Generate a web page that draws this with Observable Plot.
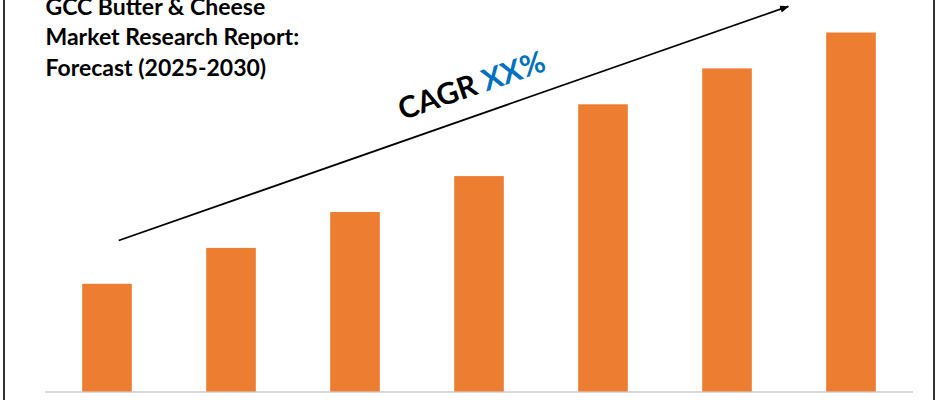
<!DOCTYPE html>
<html><head><meta charset="utf-8">
<script src="https://cdn.jsdelivr.net/npm/d3@7"></script>
<script src="https://cdn.jsdelivr.net/npm/@observablehq/plot@0.6"></script>
<style>
body{margin:0;background:#fff;}
#wrap{position:relative;width:940px;height:400px;overflow:hidden;background:#fff;}
#frame{position:absolute;left:3px;top:0;width:928px;height:400px;border-left:2px solid #333;border-right:2px solid #333;pointer-events:none;}
</style></head><body>
<div id="wrap"><div id="frame"></div></div>
<script>
// ---- data ----
const years = ["2024", "2025", "2026", "2027", "2028", "2029", "2030"];
const values = [3, 4, 5, 6, 8, 9, 10];
const titleLines = ["GCC Butter & Cheese", "Market Research Report:", "Forecast (2025-2030)"];
const cagrWord = "CAGR";
const cagrValue = "XX%";
// trend arrow in data space (x = category index, y = value)
const trendFrom = {x: 0.59, y: 4.22};
const trendTo = {x: 5.99, y: 10.74};
const cagrAt = {x: 2.88, y: 7.57};

const data = years.map((year, i) => ({year, i, value: values[i]}));

function filledArrow(color) {
  const m = d3.create("svg:marker")
    .attr("viewBox", "0 -5 10 10")
    .attr("markerWidth", 5)
    .attr("markerHeight", 5)
    .attr("refX", 9)
    .attr("orient", "auto")
    .attr("fill", color)
    .attr("stroke", "none");
  m.append("path").attr("d", "M0,-4L10,0L0,4Z");
  return m.node();
}

const chart = Plot.plot({
  width: 940,
  height: 400,
  marginLeft: 45,
  marginRight: 27,
  marginTop: 32.5,
  marginBottom: 8.5,
  style: {fontFamily: "Lato, 'Open Sans', sans-serif", background: "white"},
  x: {axis: null, domain: [0, years.length]},
  y: {axis: null, domain: [0, d3.max(values)]},
  marks: [
    Plot.ruleY([0], {stroke: "#d9d9d9", strokeWidth: 2}),
    Plot.rectY(data, {x1: d => d.i + 0.3, x2: d => d.i + 0.7, y: "value", fill: "#ED7D31"}),
    Plot.link([{from: trendFrom, to: trendTo}], {
      x1: d => d.from.x, y1: d => d.from.y, x2: d => d.to.x, y2: d => d.to.y,
      stroke: "black", strokeWidth: 1.8, markerEnd: filledArrow
    }),
    Plot.text([cagrWord + " " + cagrValue], {
      x: () => cagrAt.x, y: () => cagrAt.y, rotate: -19,
      textAnchor: "start", lineAnchor: "bottom",
      fontSize: 30, fontWeight: "bold", fill: "black"
    }),
    Plot.text([titleLines.join("\n")], {
      frameAnchor: "top-left", lineAnchor: "top", textAnchor: "start",
      dy: -40, fontSize: 23, lineHeight: 1.33, fontWeight: "bold", fill: "black"
    })
  ]
});

// colour the CAGR value in blue
d3.select(chart).selectAll("text").each(function() {
  const t = d3.select(this);
  if (t.text() === cagrWord + " " + cagrValue) {
    t.text(null);
    t.append("tspan").text(cagrWord + " ");
    t.append("tspan").attr("fill", "#0070C0").text(cagrValue);
  }
});

document.getElementById("wrap").insertBefore(chart, document.getElementById("frame"));
</script>
</body></html>
